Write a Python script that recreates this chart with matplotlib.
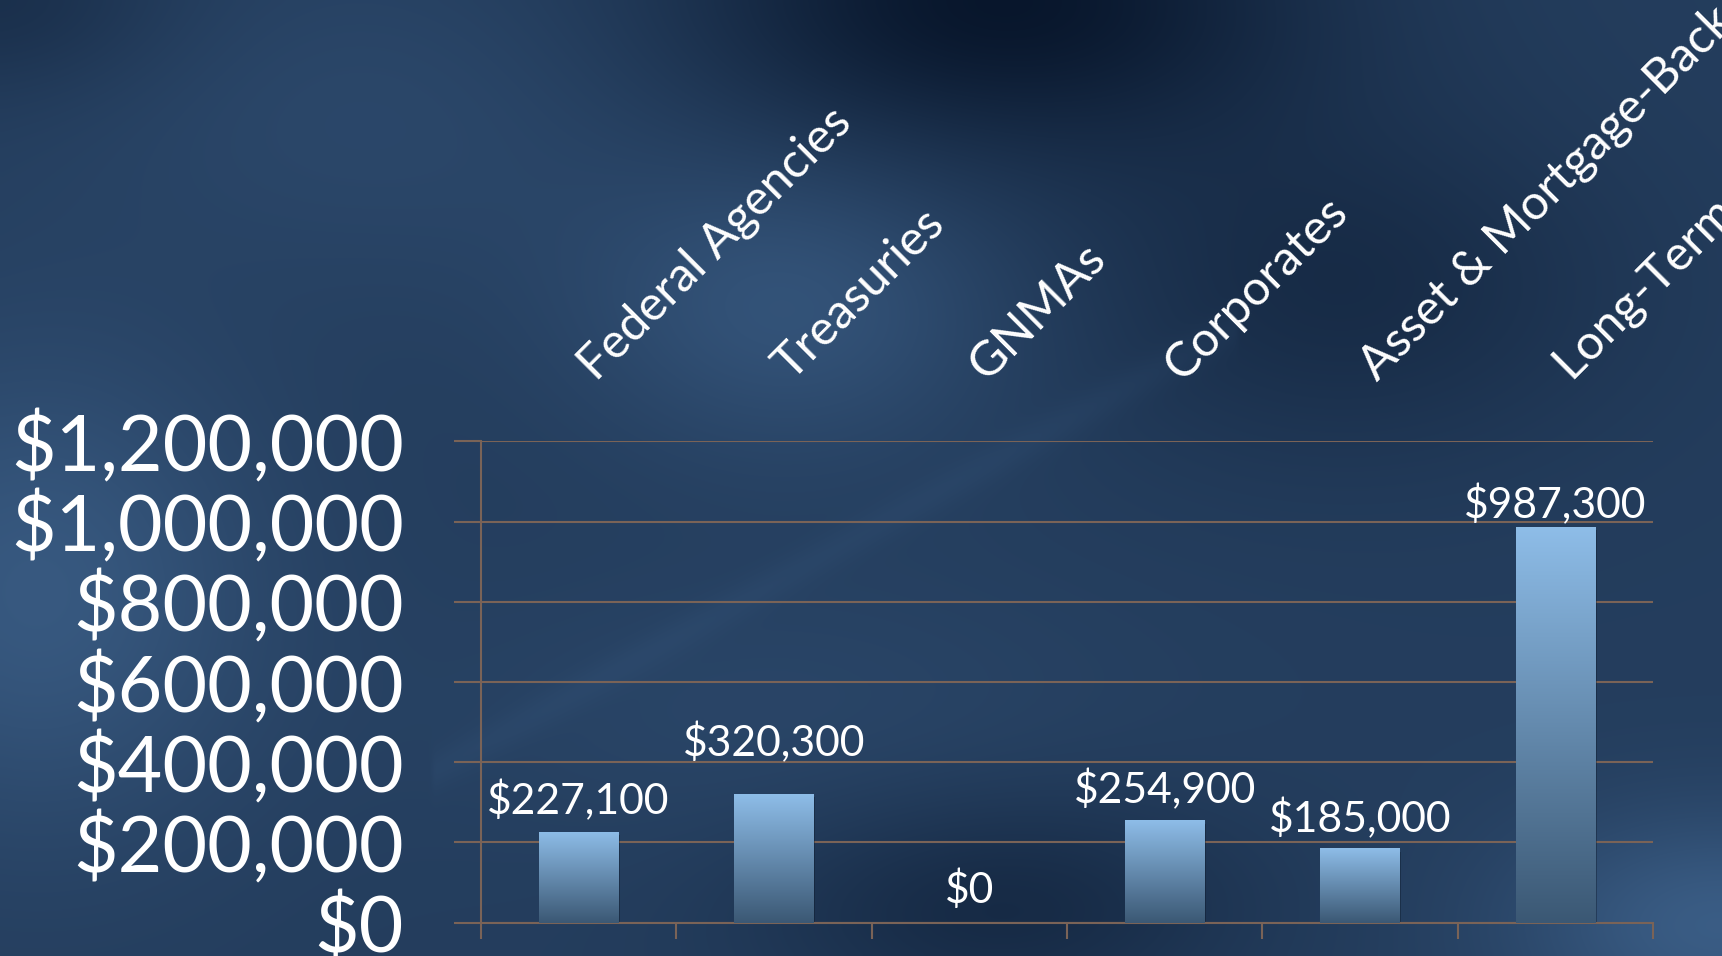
import numpy as np
import matplotlib.pyplot as plt
from matplotlib.colors import to_rgb
from matplotlib.transforms import blended_transform_factory, offset_copy

# ── Data ──────────────────────────────────────────────────────────────────────
CATEGORIES = ["Federal Agencies", "Treasuries", "GNMAs", "Corporates",
              "Asset & Mortgage-Backed", "Long-Term Bonds"]
VALUES = [227100, 320300, 0, 254900, 185000, 987300]
Y_TICKS = [0, 200000, 400000, 600000, 800000, 1000000, 1200000]

# ── Style ─────────────────────────────────────────────────────────────────────
FONT = "Lato"
GRID = "#7a6357"
BAR_TOP = "#8ebde8"
BAR_BOT = "#3b5874"
BG_DARK = np.array([0.02, 0.07, 0.15])
BG_LIGHT = np.array([0.29, 0.45, 0.63])
# data-label gap above each bar (pixels); the source slide is not uniform
LABEL_GAP = [17, 38, 20, 17, 16, 9]

plt.rcParams.update({"font.family": FONT})


def money(v):
    return f"${v:,.0f}"


def gauss(x, y, cx, cy, sx, sy):
    return np.exp(-(((x - cx) / sx) ** 2 + ((y - cy) / sy) ** 2))


def background(w=430, h=240):
    # smooth cloudy backdrop, y measured from the top
    x, y = np.meshgrid(np.linspace(0, 1, w), np.linspace(0, 1, h))
    L = 0.45 * np.ones_like(x)
    L += 0.28 * gauss(x, y, 0.02, 0.62, 0.13, 0.25)
    L += 0.22 * gauss(x, y, 0.46, 0.32, 0.12, 0.15)
    L += 0.10 * gauss(x, y, 0.22, 0.12, 0.18, 0.18)
    L += 0.08 * gauss(x, y, 0.45, 0.75, 0.20, 0.15)
    L -= 0.40 * gauss(x, y, 0.58, 0.00, 0.18, 0.16)
    L -= 0.18 * gauss(x, y, 0.78, 0.30, 0.16, 0.18)
    L -= 0.20 * gauss(x, y, 0.58, 0.95, 0.14, 0.12)
    L += 0.32 * gauss(x, y, 1.00, 0.97, 0.12, 0.12)
    L -= 0.15 * gauss(x, y, 0.00, 0.00, 0.10, 0.10)
    # faint diagonal streak
    d = np.abs((y - 0.78) + (x - 0.28) * (0.40 / 0.40)) / 1.4
    L += 0.05 * np.exp(-(d / 0.015) ** 2) * ((x > 0.25) & (x < 0.72))
    L = np.clip(L, 0, 1)[..., None]
    return BG_DARK + (BG_LIGHT - BG_DARK) * L


def main():
    fig = plt.figure(figsize=(17.22, 9.56), dpi=100)

    bg = fig.add_axes([0, 0, 1, 1], zorder=-10)
    bg.imshow(background(), extent=[0, 1, 0, 1], aspect="auto",
              interpolation="bicubic")
    bg.set_axis_off()

    ax = fig.add_axes([0.2793, 0.0349, 0.6806, 0.5033])
    ax.patch.set_alpha(0)
    n = len(CATEGORIES)
    xs = np.arange(n) + 0.5
    ax.set_xlim(0, n)
    ax.set_ylim(0, max(Y_TICKS))

    # gradient bars
    grad = np.linspace(0, 1, 256)[:, None]
    top, bot = np.array(to_rgb(BAR_TOP)), np.array(to_rgb(BAR_BOT))
    grad_img = (top + (bot - top) * grad).reshape(256, 1, 3)
    width = 0.405
    bars = ax.bar(xs, VALUES, width=width, color="none", zorder=3)
    for b, v in zip(bars, VALUES):
        if v <= 0:
            continue
        x0 = b.get_x()
        # soft shadow under the bar
        ax.bar(x0 + width / 2 + 0.01, v, width=width, bottom=-8000,
               color="#0a1422", alpha=0.35, zorder=2)
        im = ax.imshow(grad_img, extent=[x0, x0 + width, 0, v],
                       aspect="auto", zorder=3, interpolation="bilinear")
        im.set_clip_path(b)

    # data labels
    for x, v, gap in zip(xs, VALUES, LABEL_GAP):
        ax.annotate(money(v), (x, v), xytext=(0, gap), textcoords="offset pixels",
                    ha="center", va="baseline", color="white", fontsize=30.7,
                    zorder=5)

    # axes styling
    ax.set_yticks(Y_TICKS)
    ax.set_yticklabels([money(t) for t in Y_TICKS])
    ax.yaxis.grid(True, color=GRID, lw=1.5, zorder=1)
    ax.set_axisbelow(True)
    ax.tick_params(axis="y", direction="out", length=19.5, width=1.5,
                   color=GRID, pad=36, labelsize=55.5, labelcolor="white")
    ax.set_xticks(np.arange(n + 1))
    ax.set_xticklabels([])
    ax.tick_params(axis="x", direction="out", length=11.5, width=1.5, color=GRID)
    for s in ("top", "right"):
        ax.spines[s].set_visible(False)
    for s in ("left", "bottom"):
        ax.spines[s].set_color(GRID)
        ax.spines[s].set_linewidth(1.5)

    # rotated category labels above the plot
    trans = blended_transform_factory(ax.transData, ax.transAxes)
    trans = offset_copy(trans, fig=fig, x=17, y=0, units="dots")
    for x, c in zip(xs, CATEGORIES):
        ax.text(x, 1.123, c, transform=trans, rotation=45,
                rotation_mode="anchor", ha="left", va="baseline",
                color="white", fontsize=35, clip_on=False)

    fig.savefig("out.png", dpi=100)


if __name__ == "__main__":
    main()
